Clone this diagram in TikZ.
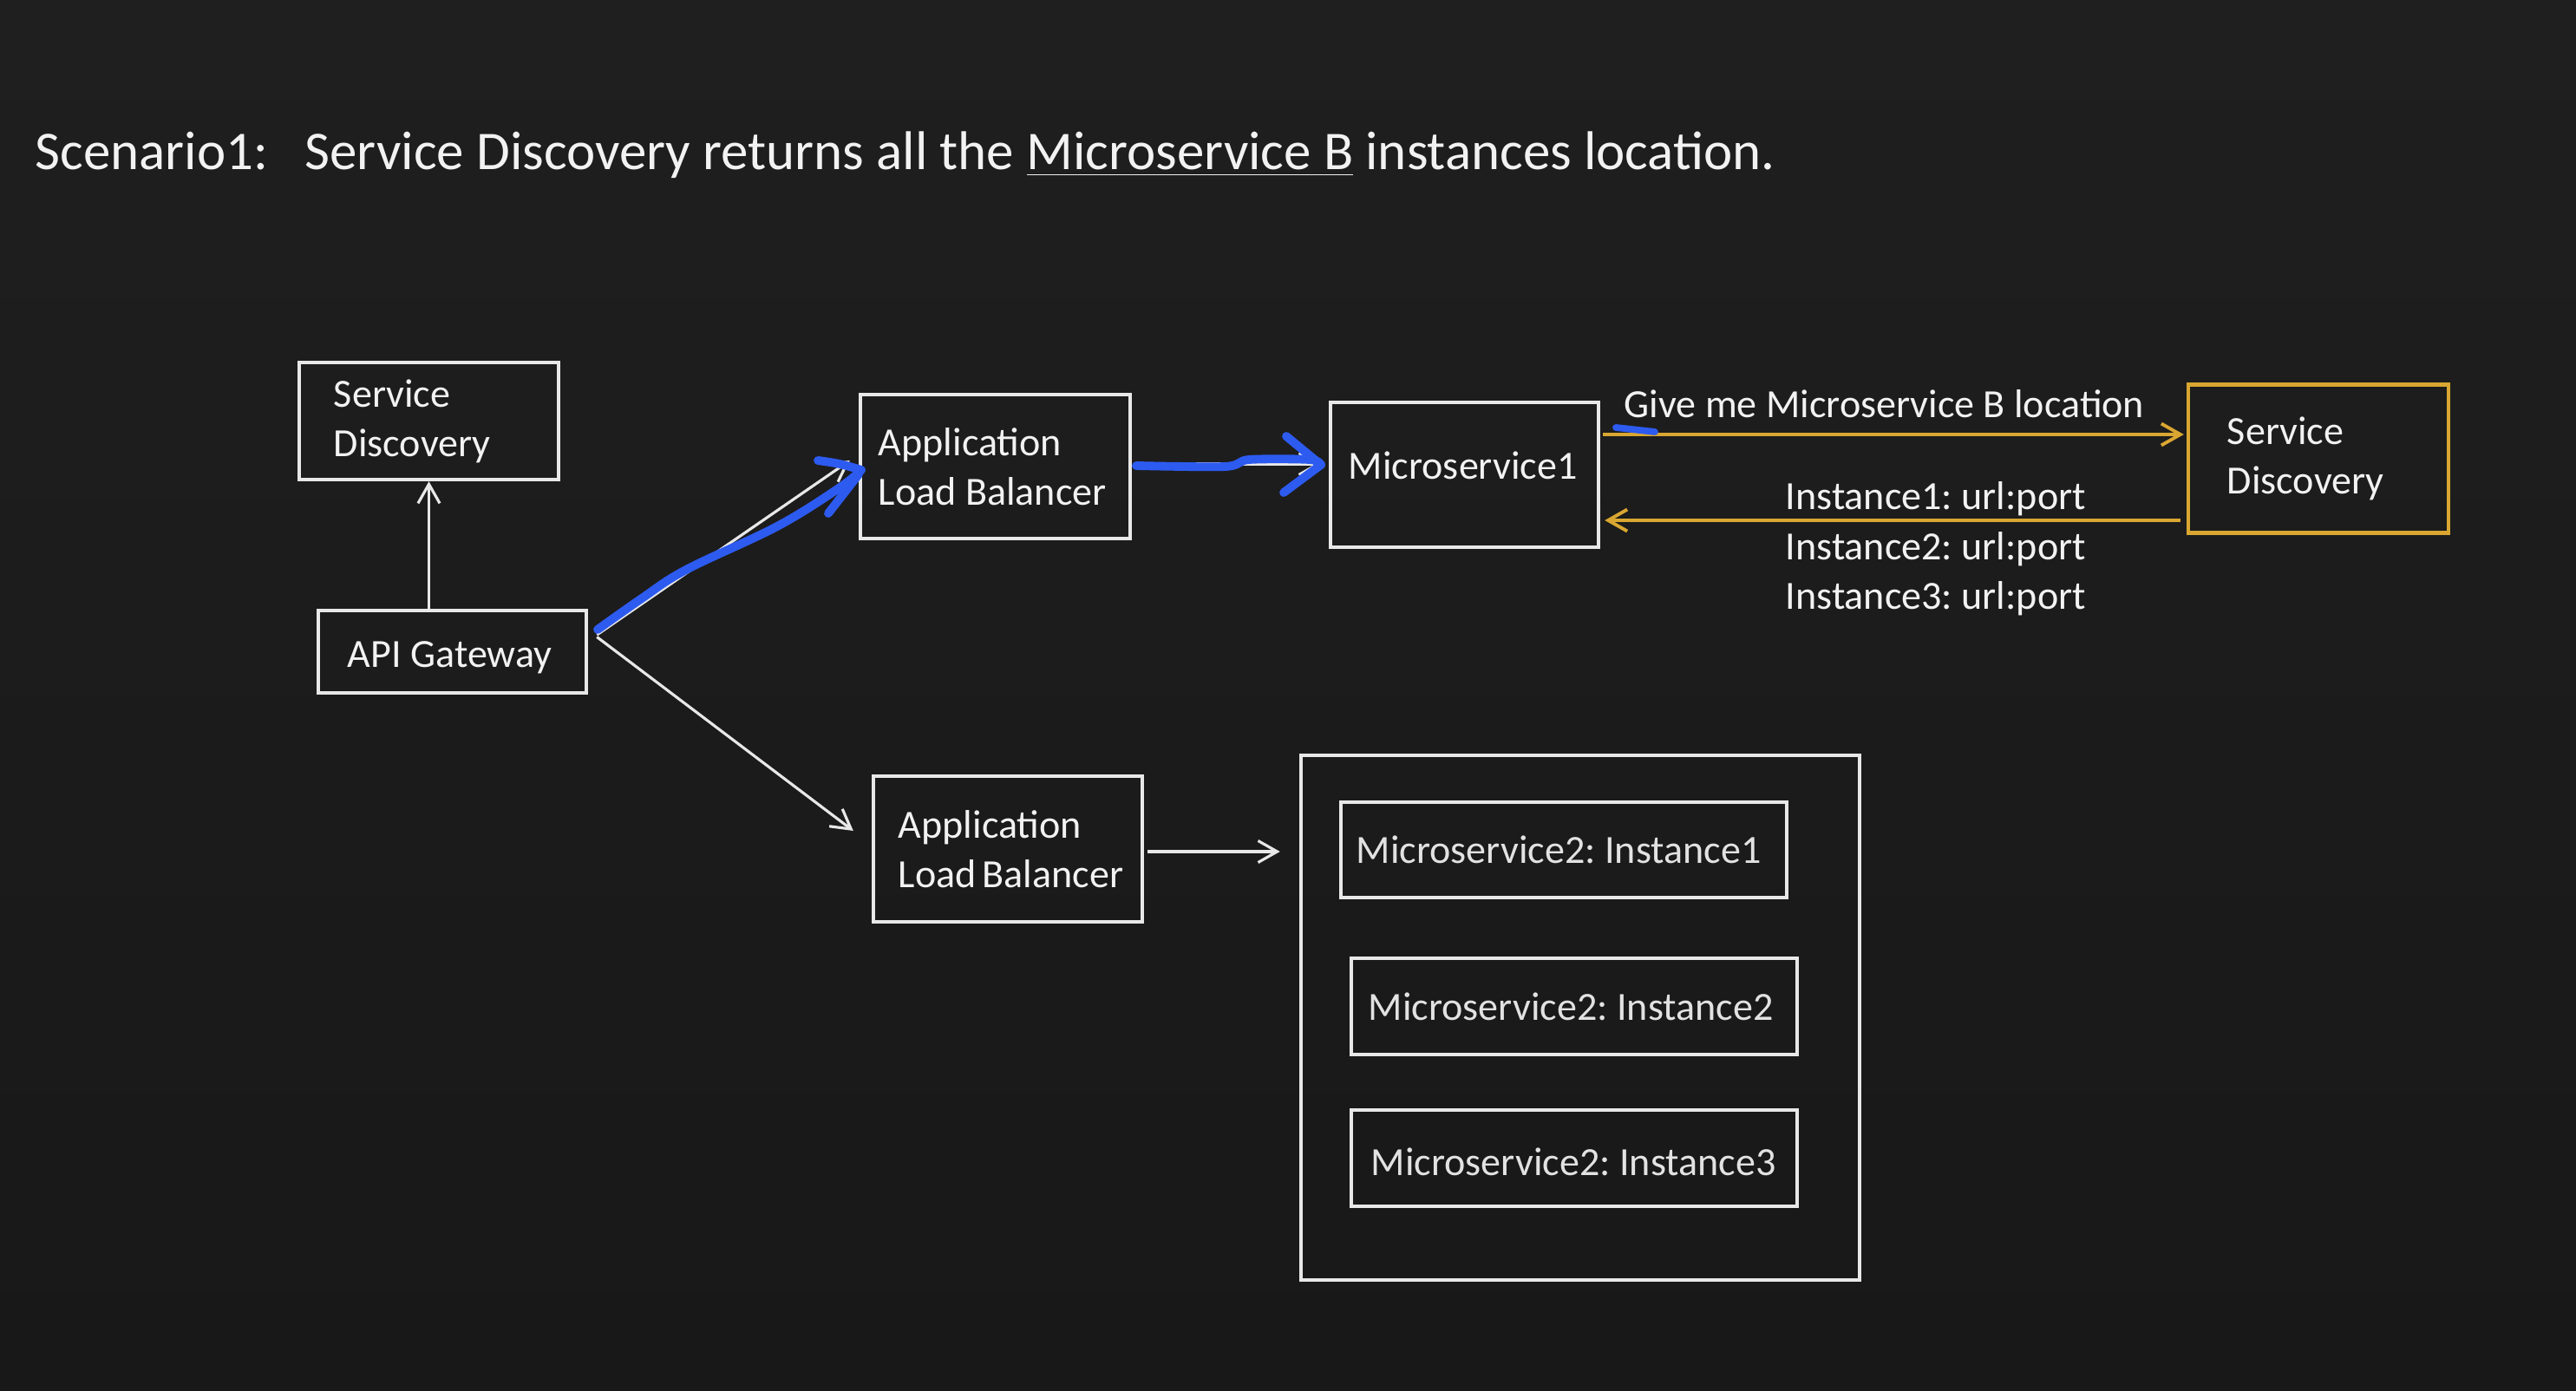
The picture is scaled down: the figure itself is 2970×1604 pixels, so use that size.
\documentclass[tikz,border=0pt]{standalone}
\usepackage{fontspec}
\setmainfont{Carlito}
\usetikzlibrary{arrows.meta,calc}
\frenchspacing
\hyphenpenalty=10000
\exhyphenpenalty=10000
\definecolor{bgtop}{HTML}{1F1F1F}
\definecolor{bgbot}{HTML}{181818}
\definecolor{lnw}{HTML}{E8E8E8}
\definecolor{txw}{HTML}{F2F2F2}
\definecolor{txg}{HTML}{E2E2E2}
\definecolor{gold}{HTML}{D9A631}
\definecolor{pen}{HTML}{2D5BF0}
\tikzset{
  box/.style={draw=lnw, line width=1.2pt, rectangle, align=flush left, text=txw, inner ysep=0pt,
     font=\fontsize{13.1}{16.2}\selectfont},
  goldbox/.style={box, draw=gold},
  lbl/.style={inner sep=0pt, text=txw, font=\fontsize{13.1}{16.2}\selectfont},
  ttl/.style={inner sep=0pt, text=txw, font=\fontsize{17.9}{21}\selectfont},
  wline/.style={draw=lnw, line width=0.9pt, -{Straight Barb[length=2.2mm,width=2.5mm,line width=0.9pt]}},
  gline/.style={draw=gold, line width=1.1pt, -{Straight Barb[length=2.2mm,width=2.5mm,line width=1.1pt]}},
  penline/.style={draw=pen, line width=2.8pt, line cap=round, line join=round}
}
\begin{document}
\begin{tikzpicture}[x=0.01cm, y=-0.01cm]
\shade[top color=bgtop, bottom color=bgbot] (0,0) rectangle (2970,1604);
\useasboundingbox (0,0) rectangle (2970,1604);

% title
\node[ttl, anchor=base west] (t1) at (40,196) {Scenario1:};
\node[ttl, anchor=base west] (t2) at (351,196) {Service Discovery returns all the \underline{Microservice B} instances location.};

% boxes
\node[box, minimum width=2.99cm, minimum height=1.35cm, text width=2.19cm, inner xsep=0.40cm] (sdL) at (494.5,485.5) {Service\\Discovery};
\node[box, minimum width=3.09cm, minimum height=0.95cm, text width=2.41cm, inner xsep=0.34cm, text height=0.45cm, text depth=0.10cm] (api) at (521.5,751.5) {API~Gateway};
\node[box, minimum width=3.11cm, minimum height=1.66cm, text width=2.69cm, inner xsep=0.21cm] (alb1) at (1147.5,538) {Application\\Load~Balancer};
\node[box, minimum width=3.09cm, minimum height=1.67cm, text width=2.67cm, inner xsep=0.21cm, text height=0.30cm, text depth=0.19cm] (ms1) at (1688.5,547.5) {Microservice1};
\node[goldbox, minimum width=3.00cm, minimum height=1.71cm, text width=2.10cm, inner xsep=0.45cm] (sdR) at (2673,529) {Service\\Discovery};
\node[box, minimum width=3.10cm, minimum height=1.68cm, text width=2.52cm, inner xsep=0.29cm] (alb2) at (1162,979) {Application\\Load~Balancer};
\node[box, minimum width=6.44cm, minimum height=6.05cm] (cont) at (1822,1173.5) {};
\node[box, text=txg, minimum width=5.14cm, minimum height=1.10cm, text width=4.78cm, inner xsep=0.18cm] (i1) at (1803,980) {Microservice2:~Instance1};
\node[box, text=txg, minimum width=5.14cm, minimum height=1.11cm, text width=4.74cm, inner xsep=0.20cm] (i2) at (1815,1160.5) {Microservice2:~Instance2};
\node[box, text=txg, minimum width=5.14cm, minimum height=1.11cm, text width=4.68cm, inner xsep=0.23cm, text height=0.40cm] (i3) at (1815,1335.5) {Microservice2:~Instance3};

% white connectors
\draw[wline] (sdL.south |- api.north) -- (sdL.south);
\draw[wline] ($(api.east)+(10,-19.5)$) -- ($(alb1.west)+(-10,-7)$);
\draw[wline] ($(api.east)+(10,-17)$) -- ($(alb2.west)+(-21,-21)$);
\coordinate (a2s) at ($(alb2.east)+(4,3)$);
\draw[wline] (a2s) -- ($(a2s -| cont.west)+(-22,0)$);
\draw[wline] ($(alb1.east)+(5,-3)$) -- ($(ms1.west)+(-9,-12.5)$);

% gold connectors
\draw[gline] ($(ms1.east)+(3,-46.5)$) -- ($(sdR.west)+(-3,-28)$);
\draw[gline] ($(sdR.west)+(-7,71)$) -- ($(ms1.east)+(5,52.5)$);

% labels
\node[lbl, anchor=base west] (give) at (1872,482) {Give me Microservice B location};
\node[lbl, anchor=base west] (in1) at (2058,588) {Instance1: url:port};
\node[lbl, anchor=base west] (in2) at (2058,646) {Instance2: url:port};
\node[lbl, anchor=base west] (in3) at (2058,703) {Instance3: url:port};

% blue hand-drawn annotations
\draw[penline] plot[smooth, tension=0.6] coordinates {(689,726) (740,690) (791,657) (896,607) (967,563) (993,542)};
\draw[penline] plot[smooth, tension=0.6] coordinates {(943,531) (968,535) (993,542)};
\draw[penline] (955,592) -- (990,547);
\draw[penline] plot[smooth, tension=0.5] coordinates {(1310,537) (1413,538) (1440,530) (1510,530) (1523,536)};
\draw[penline] (1483,503) -- (1523,536) -- (1480,568);
\draw[penline, line width=2.2pt] (1863,493) -- (1908,498);
\end{tikzpicture}
\end{document}
